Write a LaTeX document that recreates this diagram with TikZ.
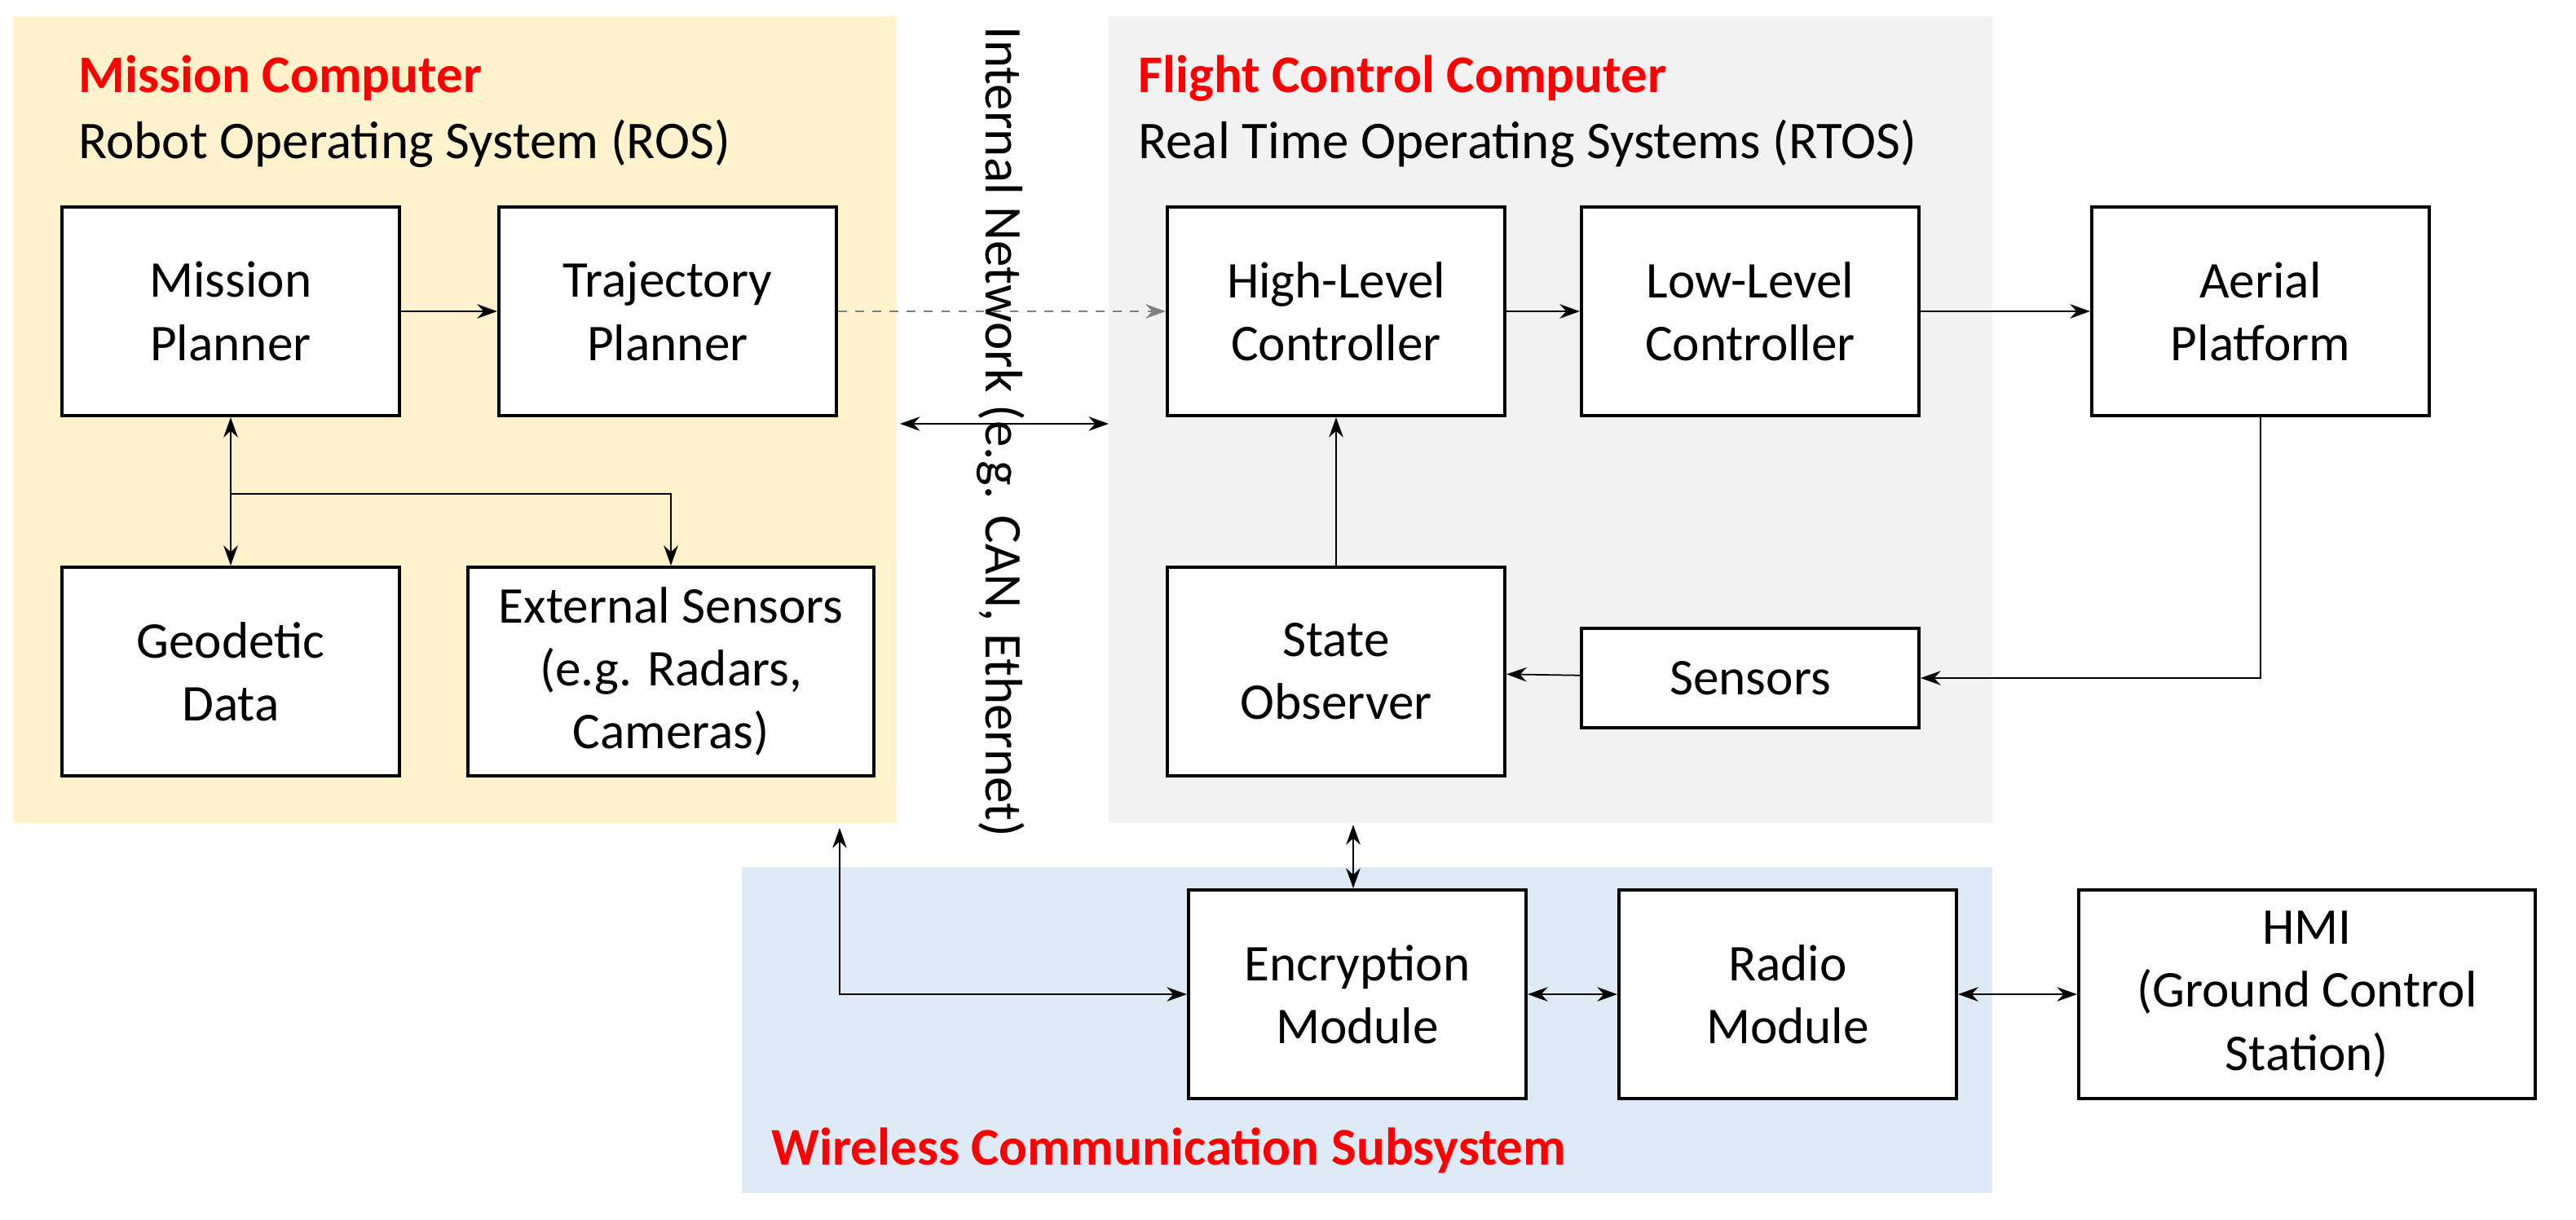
\documentclass[tikz,border=0pt]{standalone}
\usepackage{fontspec}
\setmainfont{Carlito}
\usetikzlibrary{arrows.meta}
\definecolor{redt}{HTML}{FF0000}
\begin{document}
\begin{tikzpicture}[x=0.02cm,y=-0.02cm,
 box/.style={draw,line width=1.2pt,fill=white,align=center,font=\fontsize{18}{22}\selectfont},
 ar/.style={-{Stealth[length=7pt,width=5pt]},line width=0.5pt},
 dar/.style={{Stealth[length=7pt,width=5pt]}-{Stealth[length=7pt,width=5pt]},line width=0.5pt},
 tt/.style={anchor=west,font=\fontsize{18.5}{22}\selectfont\bfseries,text=redt},
 st/.style={anchor=west,font=\fontsize{18.5}{22}\selectfont}]
\useasboundingbox (0,0) rectangle (1580,748);
\fill[fill={rgb,255:red,255;green,242;blue,204}] (8,10) rectangle (550,505);
\fill[fill={rgb,255:red,242;green,242;blue,242}] (680,10) rectangle (1222,505);
\fill[fill={rgb,255:red,222;green,235;blue,247}] (455,532) rectangle (1222,732);
\node[tt] at (42,48) {Mission Computer};
\node[st] at (42,88) {Robot Operating System (ROS)};
\node[tt] at (692,48) {Flight Control Computer};
\node[st] at (692,88) {Real Time Operating Systems (RTOS)};
\node[tt] at (467,706) {Wireless Communication Subsystem};
\node[font=\fontsize{18.5}{22}\selectfont,rotate=-90] (net) at (614,265) {Internal Network (e.g. CAN, Ethernet)};
\node[box,minimum width=4.14cm,minimum height=2.56cm] (mp) at (141.5,191) {Mission\\Planner};
\node[box,minimum width=4.14cm,minimum height=2.56cm] (tp) at (409.5,191) {Trajectory\\Planner};
\node[box,minimum width=4.14cm,minimum height=2.56cm] (gd) at (141.5,412) {Geodetic\\Data};
\node[box,minimum width=4.98cm,minimum height=2.56cm] (es) at (411.5,412) {External Sensors\\(e.g. Radars,\\Cameras)};
\node[box,minimum width=4.14cm,minimum height=2.56cm] (hl) at (819.5,191) {High-Level\\Controller};
\node[box,minimum width=4.14cm,minimum height=2.56cm] (ll) at (1073.5,191) {Low-Level\\Controller};
\node[box,minimum width=4.14cm,minimum height=2.56cm] (ap) at (1386.5,191) {Aerial\\Platform};
\node[box,minimum width=4.14cm,minimum height=2.56cm] (so) at (819.5,412) {State\\Observer};
\node[box,minimum width=4.14cm,minimum height=1.22cm] (se) at (1073.5,416) {Sensors};
\node[box,minimum width=4.14cm,minimum height=2.56cm] (en) at (832.5,610) {Encryption\\Module};
\node[box,minimum width=4.14cm,minimum height=2.56cm] (ra) at (1096.5,610) {Radio\\Module};
\node[box,minimum width=5.6cm,minimum height=2.56cm] (hmi) at (1415,610) {HMI\\(Ground Control\\Station)};
\draw[ar] (mp) -- (tp);
\draw[ar,dashed,draw=gray] (tp) -- (hl);
\draw[ar] (hl) -- (ll);
\draw[ar] (ll) -- (ap);
\draw[ar] (ap.south) |- (se.east);
\draw[ar] (se) -- (so);
\draw[ar] (so.north) -- (hl.south);
\coordinate (fk) at (141.5,303);
\draw[ar] (fk) -- (mp.south);
\draw[ar] (fk) -- (gd.north);
\draw[ar] (fk) -| (es.north);
\coordinate (n1) at (552,260); \coordinate (n2) at (680,260);
\draw[dar] (n1) -- (n2);
\coordinate (v1) at (830,506);
\draw[dar] (v1) -- (en.north -| v1);
\coordinate (w1) at (515,508);
\draw[dar] (w1) |- (en.west);
\draw[dar] (en) -- (ra);
\draw[dar] (ra) -- (hmi);
\end{tikzpicture}
\end{document}
